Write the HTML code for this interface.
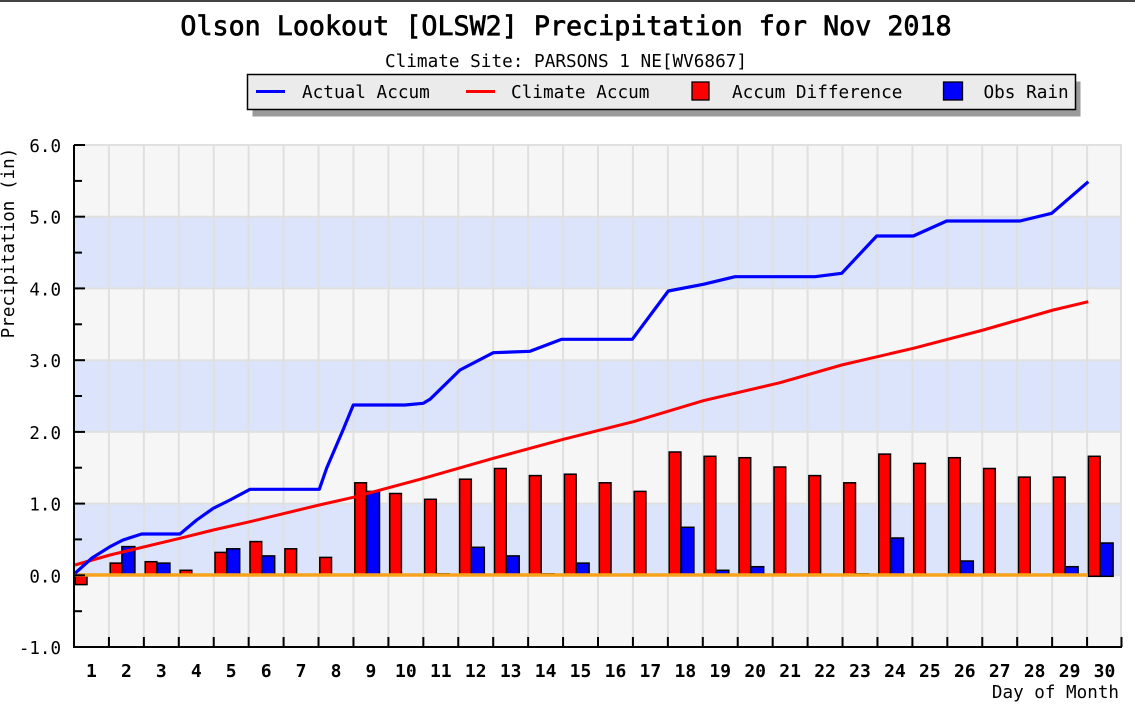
<!DOCTYPE html>
<html><head><meta charset="utf-8"><style>
html,body{margin:0;padding:0;background:#fff;}
svg{display:block;}
text{font-family:"DejaVu Sans Mono","Liberation Mono",monospace;fill:#000;}
</style></head><body>
<svg width="1135" height="711" viewBox="0 0 1135 711" xmlns="http://www.w3.org/2000/svg">
<rect x="0" y="0" width="1135" height="711" fill="#fff"/>
<rect x="0" y="0" width="1135" height="2" fill="#444"/>

<!-- title -->
<text x="566" y="35" font-size="26.7" text-anchor="middle" stroke="#000" stroke-width="0.7">Olson Lookout [OLSW2] Precipitation for Nov 2018</text>
<text x="566" y="67" font-size="17.7" text-anchor="middle">Climate Site: PARSONS 1 NE[WV6867]</text>

<!-- legend -->
<rect x="252.5" y="81.5" width="828" height="35" fill="#9a9a9a"/>
<rect x="247.5" y="74.5" width="828" height="35" fill="#ebebeb" stroke="#000" stroke-width="1.5"/>
<line x1="256" y1="91.5" x2="285" y2="91.5" stroke="#0000ff" stroke-width="3"/>
<text x="302" y="98" font-size="17.7">Actual Accum</text>
<line x1="466" y1="91.5" x2="495" y2="91.5" stroke="#ff0000" stroke-width="3"/>
<text x="511" y="98" font-size="17.7">Climate Accum</text>
<rect x="692" y="82" width="17" height="18" fill="#ff0000" stroke="#000" stroke-width="1.3"/>
<text x="732" y="98" font-size="17.7">Accum Difference</text>
<rect x="943.5" y="82" width="19" height="18" fill="#0000ff" stroke="#000" stroke-width="1.3"/>
<text x="983.5" y="98" font-size="17.7">Obs Rain</text>

<!-- plot background bands -->
<rect x="74" y="145" width="1048" height="502" fill="#f6f6f6"/>
<rect x="74" y="216.7" width="1048" height="71.7" fill="#dce4fb"/>
<rect x="74" y="360.2" width="1048" height="71.7" fill="#dce4fb"/>
<rect x="74" y="503.6" width="1048" height="71.7" fill="#dce4fb"/>

<!-- horizontal grid -->
<g stroke="#e0e0e0" stroke-width="2">
<line x1="74" y1="145" x2="1122" y2="145"/>
<line x1="74" y1="216.7" x2="1122" y2="216.7"/>
<line x1="74" y1="288.4" x2="1122" y2="288.4"/>
<line x1="74" y1="360.2" x2="1122" y2="360.2"/>
<line x1="74" y1="431.9" x2="1122" y2="431.9"/>
<line x1="74" y1="503.6" x2="1122" y2="503.6"/>
<line x1="74" y1="575.3" x2="1122" y2="575.3"/>
</g>
<!-- vertical grid -->
<g stroke="#e0e0e0" stroke-width="2">
<line x1="108.93" y1="145" x2="108.93" y2="647"/>
<line x1="143.87" y1="145" x2="143.87" y2="647"/>
<line x1="178.8" y1="145" x2="178.8" y2="647"/>
<line x1="213.73" y1="145" x2="213.73" y2="647"/>
<line x1="248.67" y1="145" x2="248.67" y2="647"/>
<line x1="283.6" y1="145" x2="283.6" y2="647"/>
<line x1="318.53" y1="145" x2="318.53" y2="647"/>
<line x1="353.47" y1="145" x2="353.47" y2="647"/>
<line x1="388.4" y1="145" x2="388.4" y2="647"/>
<line x1="423.33" y1="145" x2="423.33" y2="647"/>
<line x1="458.27" y1="145" x2="458.27" y2="647"/>
<line x1="493.2" y1="145" x2="493.2" y2="647"/>
<line x1="528.13" y1="145" x2="528.13" y2="647"/>
<line x1="563.07" y1="145" x2="563.07" y2="647"/>
<line x1="598" y1="145" x2="598" y2="647"/>
<line x1="632.93" y1="145" x2="632.93" y2="647"/>
<line x1="667.87" y1="145" x2="667.87" y2="647"/>
<line x1="702.8" y1="145" x2="702.8" y2="647"/>
<line x1="737.73" y1="145" x2="737.73" y2="647"/>
<line x1="772.67" y1="145" x2="772.67" y2="647"/>
<line x1="807.6" y1="145" x2="807.6" y2="647"/>
<line x1="842.53" y1="145" x2="842.53" y2="647"/>
<line x1="877.47" y1="145" x2="877.47" y2="647"/>
<line x1="912.4" y1="145" x2="912.4" y2="647"/>
<line x1="947.33" y1="145" x2="947.33" y2="647"/>
<line x1="982.27" y1="145" x2="982.27" y2="647"/>
<line x1="1017.2" y1="145" x2="1017.2" y2="647"/>
<line x1="1052.13" y1="145" x2="1052.13" y2="647"/>
<line x1="1087.07" y1="145" x2="1087.07" y2="647"/>
<line x1="1121" y1="145" x2="1121" y2="647"/>
</g>

<!-- red bars: Accum Difference -->
<g fill="#ff0000" stroke="#000" stroke-width="1.5">
<rect x="75.3" y="575.3" width="11.7" height="9.3"/>
<rect x="110.2" y="563.1" width="11.7" height="12.2"/>
<rect x="145.2" y="561.7" width="11.7" height="13.6"/>
<rect x="180.1" y="570.3" width="11.7" height="5"/>
<rect x="215" y="552.4" width="11.7" height="22.9"/>
<rect x="250" y="541.6" width="11.7" height="33.7"/>
<rect x="284.9" y="548.8" width="11.7" height="26.5"/>
<rect x="319.8" y="557.4" width="11.7" height="17.9"/>
<rect x="354.8" y="482.8" width="11.7" height="92.5"/>
<rect x="389.7" y="493.5" width="11.7" height="81.8"/>
<rect x="424.6" y="499.3" width="11.7" height="76"/>
<rect x="459.6" y="479.2" width="11.7" height="96.1"/>
<rect x="494.5" y="468.5" width="11.7" height="106.8"/>
<rect x="529.4" y="475.6" width="11.7" height="99.7"/>
<rect x="564.4" y="474.2" width="11.7" height="101.1"/>
<rect x="599.3" y="482.8" width="11.7" height="92.5"/>
<rect x="634.2" y="491.4" width="11.7" height="83.9"/>
<rect x="669.2" y="452" width="11.7" height="123.3"/>
<rect x="704.1" y="456.3" width="11.7" height="119"/>
<rect x="739" y="457.7" width="11.7" height="117.6"/>
<rect x="774" y="467" width="11.7" height="108.3"/>
<rect x="808.9" y="475.6" width="11.7" height="99.7"/>
<rect x="843.8" y="482.8" width="11.7" height="92.5"/>
<rect x="878.8" y="454.1" width="11.7" height="121.2"/>
<rect x="913.7" y="463.4" width="11.7" height="111.9"/>
<rect x="948.6" y="457.7" width="11.7" height="117.6"/>
<rect x="983.6" y="468.5" width="11.7" height="106.8"/>
<rect x="1018.5" y="477.1" width="11.7" height="98.2"/>
<rect x="1053.4" y="477.1" width="11.7" height="98.2"/>
<rect x="1088.4" y="456.3" width="11.7" height="120"/>
</g>
<!-- blue bars: Obs Rain -->
<g fill="#0000ff" stroke="#000" stroke-width="1.5">
<rect x="121.9" y="546.6" width="13" height="28.7"/>
<rect x="156.9" y="563.1" width="13" height="12.2"/>
<rect x="226.7" y="548.8" width="13" height="26.5"/>
<rect x="261.7" y="555.9" width="13" height="19.4"/>
<rect x="366.5" y="491.4" width="13" height="83.9"/>
<rect x="436.3" y="573.8" width="13" height="1.5"/>
<rect x="471.3" y="547.3" width="13" height="28"/>
<rect x="506.2" y="555.9" width="13" height="19.4"/>
<rect x="541.1" y="573.8" width="13" height="1.5"/>
<rect x="576.1" y="563.1" width="13" height="12.2"/>
<rect x="680.9" y="527.3" width="13" height="48"/>
<rect x="715.8" y="570.3" width="13" height="5"/>
<rect x="750.7" y="566.7" width="13" height="8.6"/>
<rect x="855.5" y="573.8" width="13" height="1.5"/>
<rect x="890.5" y="538" width="13" height="37.3"/>
<rect x="960.3" y="561" width="13" height="14.3"/>
<rect x="1065.1" y="566.7" width="13" height="8.6"/>
<rect x="1100.1" y="543" width="13" height="33.3"/>
</g>

<!-- zero line -->
<line x1="74" y1="575" x2="1088" y2="575" stroke="#f7a21b" stroke-width="3.5"/>

<!-- climate accum -->
<polyline fill="none" stroke="#ff0000" stroke-width="3" stroke-linejoin="round"
points="75,565 110,555 180,538.3 213.3,530 250,521.7 319.3,505 353.3,497.3 420,479.3 493.3,458.3 563.3,439.3 633.3,421.7 703.3,400.7 780,382.7 841.7,365 913.3,348.3 983.3,330 1053.3,310 1088.3,301.7"/>
<!-- actual accum -->
<polyline fill="none" stroke="#0000ff" stroke-width="3.2" stroke-linejoin="round"
points="75,573.3 92,558 110,546.7 123,540 141.7,534 180,534 196.7,520 213.3,508.3 230,500 250,489.3 319.3,489.3 326.7,468 343,430 353.3,405 405,405 423.3,403.3 430,399.3 460,370 493.3,352.7 530,351.3 561.7,339.3 632.3,339.3 668.3,291 703.3,284.3 735,276.7 815,276.7 841.7,273.3 876.7,236 913.3,236 946.7,221 1020,221 1051.7,213.3 1088.3,181.7"/>

<!-- axes -->
<line x1="74" y1="145" x2="74" y2="648" stroke="#000" stroke-width="2"/>
<line x1="73" y1="647" x2="1122" y2="647" stroke="#000" stroke-width="2"/>
<g stroke="#000" stroke-width="2">
<line x1="74" y1="145" x2="85" y2="145"/>
<line x1="74" y1="180.9" x2="82" y2="180.9"/>
<line x1="74" y1="216.7" x2="85" y2="216.7"/>
<line x1="74" y1="252.6" x2="82" y2="252.6"/>
<line x1="74" y1="288.4" x2="85" y2="288.4"/>
<line x1="74" y1="324.3" x2="82" y2="324.3"/>
<line x1="74" y1="360.2" x2="85" y2="360.2"/>
<line x1="74" y1="396" x2="82" y2="396"/>
<line x1="74" y1="431.9" x2="85" y2="431.9"/>
<line x1="74" y1="467.7" x2="82" y2="467.7"/>
<line x1="74" y1="503.6" x2="85" y2="503.6"/>
<line x1="74" y1="539.4" x2="82" y2="539.4"/>
<line x1="74" y1="575.3" x2="85" y2="575.3"/>
<line x1="74" y1="611.2" x2="82" y2="611.2"/>
</g>
<g stroke="#000" stroke-width="2">
<line x1="108.93" y1="637" x2="108.93" y2="647"/>
<line x1="143.87" y1="637" x2="143.87" y2="647"/>
<line x1="178.8" y1="637" x2="178.8" y2="647"/>
<line x1="213.73" y1="637" x2="213.73" y2="647"/>
<line x1="248.67" y1="637" x2="248.67" y2="647"/>
<line x1="283.6" y1="637" x2="283.6" y2="647"/>
<line x1="318.53" y1="637" x2="318.53" y2="647"/>
<line x1="353.47" y1="637" x2="353.47" y2="647"/>
<line x1="388.4" y1="637" x2="388.4" y2="647"/>
<line x1="423.33" y1="637" x2="423.33" y2="647"/>
<line x1="458.27" y1="637" x2="458.27" y2="647"/>
<line x1="493.2" y1="637" x2="493.2" y2="647"/>
<line x1="528.13" y1="637" x2="528.13" y2="647"/>
<line x1="563.07" y1="637" x2="563.07" y2="647"/>
<line x1="598" y1="637" x2="598" y2="647"/>
<line x1="632.93" y1="637" x2="632.93" y2="647"/>
<line x1="667.87" y1="637" x2="667.87" y2="647"/>
<line x1="702.8" y1="637" x2="702.8" y2="647"/>
<line x1="737.73" y1="637" x2="737.73" y2="647"/>
<line x1="772.67" y1="637" x2="772.67" y2="647"/>
<line x1="807.6" y1="637" x2="807.6" y2="647"/>
<line x1="842.53" y1="637" x2="842.53" y2="647"/>
<line x1="877.47" y1="637" x2="877.47" y2="647"/>
<line x1="912.4" y1="637" x2="912.4" y2="647"/>
<line x1="947.33" y1="637" x2="947.33" y2="647"/>
<line x1="982.27" y1="637" x2="982.27" y2="647"/>
<line x1="1017.2" y1="637" x2="1017.2" y2="647"/>
<line x1="1052.13" y1="637" x2="1052.13" y2="647"/>
<line x1="1087.07" y1="637" x2="1087.07" y2="647"/>
<line x1="1121.5" y1="637" x2="1121.5" y2="647"/>
</g>

<!-- y labels -->
<g font-size="17.5" text-anchor="end">
<text x="61" y="152">6.0</text>
<text x="61" y="223.7">5.0</text>
<text x="61" y="295.4">4.0</text>
<text x="61" y="367.2">3.0</text>
<text x="61" y="438.9">2.0</text>
<text x="61" y="510.6">1.0</text>
<text x="61" y="582.3">0.0</text>
<text x="61" y="654">-1.0</text>
</g>
<text transform="translate(14,243) rotate(-90)" font-size="17.6" text-anchor="middle">Precipitation (in)</text>

<!-- x labels -->
<g font-size="18" font-weight="bold" text-anchor="middle">
<text x="91.47" y="677">1</text>
<text x="126.4" y="677">2</text>
<text x="161.33" y="677">3</text>
<text x="196.27" y="677">4</text>
<text x="231.2" y="677">5</text>
<text x="266.13" y="677">6</text>
<text x="301.07" y="677">7</text>
<text x="336" y="677">8</text>
<text x="370.93" y="677">9</text>
<text x="405.87" y="677">10</text>
<text x="440.8" y="677">11</text>
<text x="475.73" y="677">12</text>
<text x="510.67" y="677">13</text>
<text x="545.6" y="677">14</text>
<text x="580.53" y="677">15</text>
<text x="615.47" y="677">16</text>
<text x="650.4" y="677">17</text>
<text x="685.33" y="677">18</text>
<text x="720.27" y="677">19</text>
<text x="755.2" y="677">20</text>
<text x="790.13" y="677">21</text>
<text x="825.07" y="677">22</text>
<text x="860" y="677">23</text>
<text x="894.93" y="677">24</text>
<text x="929.87" y="677">25</text>
<text x="964.8" y="677">26</text>
<text x="999.73" y="677">27</text>
<text x="1034.67" y="677">28</text>
<text x="1069.6" y="677">29</text>
<text x="1104.53" y="677">30</text>
</g>
<text x="1119" y="698" font-size="17.6" text-anchor="end">Day of Month</text>
</svg>
</body></html>
